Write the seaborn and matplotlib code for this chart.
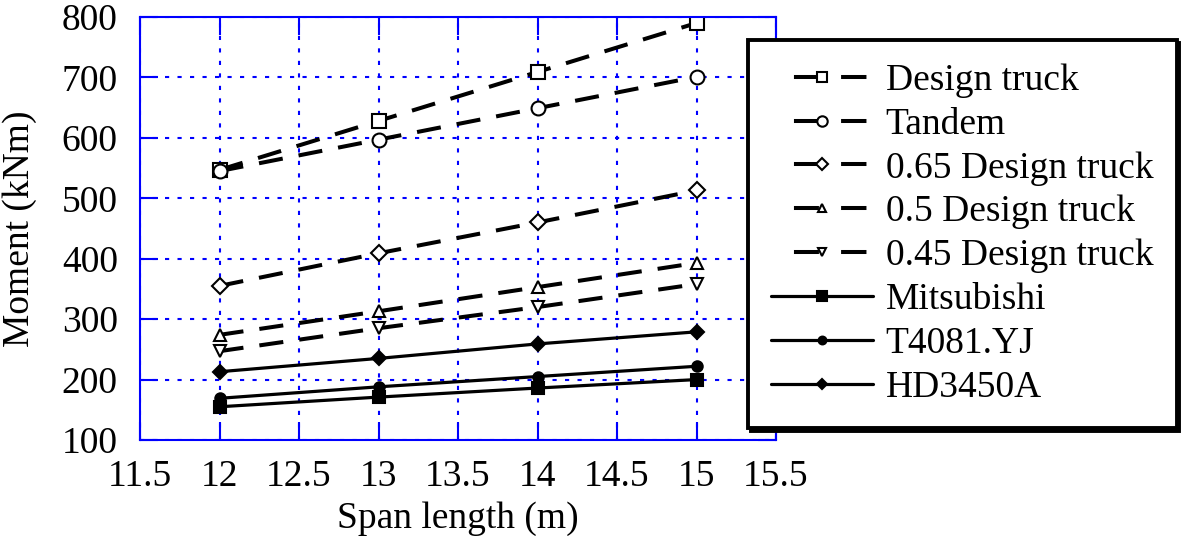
import matplotlib
matplotlib.use("Agg")
import matplotlib.pyplot as plt
import seaborn as sns
import pandas as pd

spans = [12, 13, 14, 15]
design_truck = [547, 628, 709, 790]
tandem = [545, 597, 649, 701]
dt_065 = [355, 409, 460, 513]
dt_05 = [274, 313, 353, 393]
dt_045 = [247, 285, 320, 358]
mitsubishi = [155, 171, 186, 200]
t4081 = [169, 188, 205, 222]
hd3450a = [213, 235, 259, 279]

labels = ["Design truck", "Tandem", "0.65 Design truck", "0.5 Design truck",
          "0.45 Design truck", "Mitsubishi", "T4081.YJ", "HD3450A"]
values = [design_truck, tandem, dt_065, dt_05, dt_045, mitsubishi, t4081, hd3450a]

sns.set_theme(style="white")
plt.rcParams['font.family'] = ['Liberation Serif', 'DejaVu Serif']
plt.rcParams['text.color'] = 'black'
plt.rcParams['axes.labelcolor'] = 'black'

fig = plt.figure(figsize=(11.81, 5.36), dpi=100)
ax = fig.add_axes([140/1181, 1-440/536, (776-140)/1181, (440-17)/536])

dash = (0, (6.0, 4.0))
styles = [
    dict(marker='s', ms=9.5, mfc='white', ls=dash, lw=2.9),
    dict(marker='o', ms=10, mfc='white', ls=dash, lw=2.9),
    dict(marker='D', ms=8, mfc='white', ls=dash, lw=2.9),
    dict(marker='^', ms=8, mfc='white', ls=dash, lw=2.9),
    dict(marker='v', ms=8, mfc='white', ls=dash, lw=2.9),
    dict(marker='s', ms=9, mfc='black', ls='-', lw=2.3),
    dict(marker='o', ms=7.5, mfc='black', ls='-', lw=2.3),
    dict(marker='D', ms=7, mfc='black', ls='-', lw=2.3),
]

for lab, vals, st in zip(labels, values, styles):
    df = pd.DataFrame({"span": spans, "moment": vals})
    sns.lineplot(data=df, x="span", y="moment", ax=ax, color='black',
                 marker=st['marker'], markersize=st['ms'],
                 markerfacecolor=st['mfc'], markeredgecolor='black',
                 markeredgewidth=1.5, linestyle=st['ls'], linewidth=st['lw'],
                 label=lab)

ax.set_xlim(11.5, 15.5)
ax.set_ylim(100, 800)
ax.set_xticks([11.5, 12, 12.5, 13, 13.5, 14, 14.5, 15, 15.5])
ax.set_xticklabels(["11.5", "12", "12.5", "13", "13.5", "14", "14.5", "15", "15.5"])
ax.set_yticks([100, 200, 300, 400, 500, 600, 700, 800])
ax.grid(True, color='#0000ff', linestyle=(0, (2, 4)), linewidth=1.5)
for s in ax.spines.values():
    s.set_color('#0000ff')
    s.set_linewidth(1.5)
ax.tick_params(direction='in', length=13, width=1.5, color='#0000ff',
               labelsize=27, labelcolor='black', top=True, right=True,
               bottom=True, left=True)
ax.tick_params(axis='x', pad=14)
ax.tick_params(axis='y', pad=16)
ax.set_xlabel("Span length (m)", fontsize=27, labelpad=5)
ax.set_ylabel("Moment (kNm)", fontsize=27, labelpad=18)

leg = ax.legend(loc='upper left', bbox_to_anchor=(748/1181, 1-40/536),
                bbox_transform=fig.transFigure, fontsize=27, frameon=True,
                fancybox=False, shadow={'color': 'black', 'alpha': 1},
                handlelength=2.7, labelspacing=0.25, borderpad=0.62,
                handletextpad=0.35, borderaxespad=0, markerscale=0.75)
leg.get_frame().set_edgecolor('black')
leg.get_frame().set_linewidth(2.8)
leg.get_frame().set_facecolor('white')
leg.set_zorder(10)

# legend handles for dashed series: short solid lead, marker, gap, one dash
for h in leg.legend_handles[:5]:
    h.set_linestyle((42.3, (6.2, 5.5, 6.3, 30.0)))

fig.savefig("out.png", dpi=100)
